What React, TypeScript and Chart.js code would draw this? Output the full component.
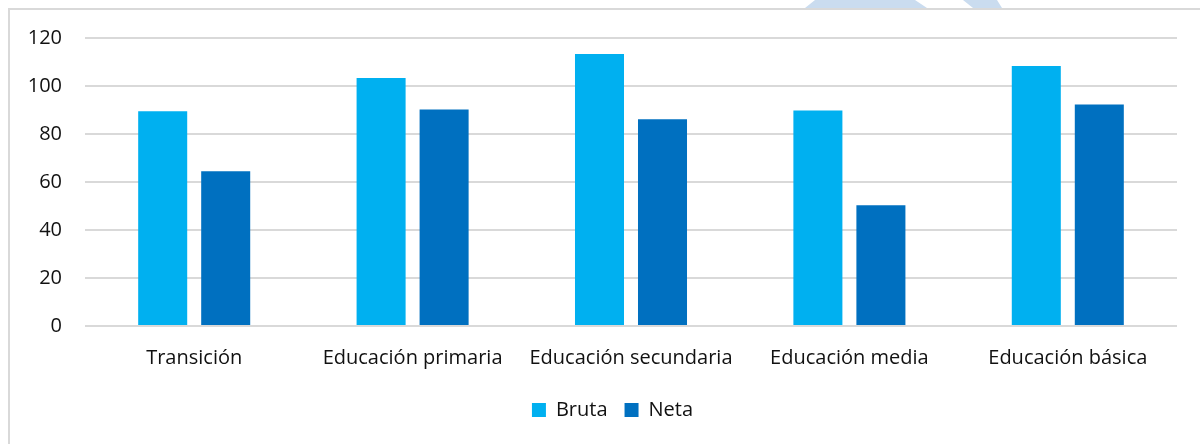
import React, { useEffect, useRef } from "react";
import { Chart, registerables } from "chart.js";

Chart.register(...registerables);

const categories = [
  "Transición",
  "Educación primaria",
  "Educación secundaria",
  "Educación media",
  "Educación básica",
];
const brutaValues = [89.5, 103.3, 113.3, 89.8, 108.3];
const netaValues = [64.5, 90.2, 86.1, 50.3, 92.3];
const seriesNames = ["Bruta", "Neta"];
const yTicks = [0, 20, 40, 60, 80, 100, 120];

const FONT = "'Open Sans', 'Noto Sans', sans-serif";
const TEXT = "#111111";

const legendShift = {
  id: "legendShift",
  afterLayout(chart: any) {
    if (chart.legend) {
      chart.legend.left += 24;
      chart.legend.right += 24;
    }
  },
};

export default function App() {
  const ref = useRef<HTMLCanvasElement | null>(null);

  useEffect(() => {
    if (!ref.current) return;
    const chart = new Chart(ref.current, {
      type: "bar",
      data: {
        labels: categories,
        datasets: [
          {
            label: seriesNames[0],
            data: brutaValues,
            backgroundColor: "#00B0F0",
            categoryPercentage: 0.577,
            barPercentage: 0.778,
          },
          {
            label: seriesNames[1],
            data: netaValues,
            backgroundColor: "#0070C0",
            categoryPercentage: 0.577,
            barPercentage: 0.778,
          },
        ],
      },
      plugins: [legendShift],
      options: {
        animation: false,
        responsive: false,
        maintainAspectRatio: false,
        layout: { padding: { left: 0, right: 23, top: 38, bottom: 14 } },
        plugins: {
          title: { display: false },
          tooltip: { enabled: false },
          legend: {
            position: "bottom",
            labels: {
              font: { family: FONT, size: 20 },
              color: TEXT,
              boxWidth: 14,
              boxHeight: 14,
              padding: 17,
            },
          },
        },
        scales: {
          x: {
            grid: { display: false, drawTicks: false },
            border: { display: false },
            ticks: {
              font: { family: FONT, size: 20 },
              color: TEXT,
              padding: 20,
              maxRotation: 0,
            },
            afterFit: (s: any) => {
              s.height = 57;
            },
          },
          y: {
            min: 0,
            max: 120,
            afterBuildTicks: (s: any) => {
              s.ticks = yTicks.map((v) => ({ value: v }));
            },
            grid: { color: "#d9d9d9", lineWidth: 2, drawTicks: false },
            border: { display: false },
            ticks: {
              font: { family: FONT, size: 20 },
              color: TEXT,
              padding: 23,
            },
            afterFit: (s: any) => {
              s.width = 85;
            },
          },
        },
      },
    });
    return () => chart.destroy();
  }, []);

  return (
    <div
      style={{
        position: "fixed",
        left: 0,
        top: 0,
        width: 1200,
        height: 444,
        background: "#fff",
        overflow: "hidden",
      }}
    >
      <div
        style={{
          position: "absolute",
          left: 805,
          top: 0,
          width: 125,
          height: 8,
          background: "#cadcef",
          clipPath: "polygon(10px 0, 110px 0, 122px 100%, 0 100%)",
        }}
      />
      <div
        style={{
          position: "absolute",
          left: 960,
          top: 0,
          width: 45,
          height: 8,
          background: "#cadcef",
          clipPath: "polygon(3px 0, 37px 0, 42px 100%, 13px 100%)",
        }}
      />
      <div
        style={{
          position: "absolute",
          left: 8,
          top: 8,
          width: 1300,
          height: 500,
          borderLeft: "2px solid #d9d9d9",
          borderTop: "2px solid #d9d9d9",
        }}
      />
      <canvas
        ref={ref}
        width={1200}
        height={444}
        style={{ position: "absolute", left: 0, top: 0, width: 1200, height: 444 }}
      />
    </div>
  );
}
